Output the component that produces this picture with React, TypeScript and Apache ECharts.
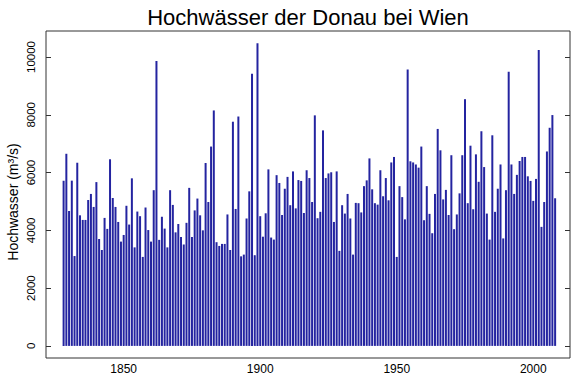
import React, { useEffect, useRef } from "react";
import * as echarts from "echarts";

const START_YEAR = 1828;
const PEAKS: number[] = [
  5720, 6650, 4670, 5720, 3110, 6340, 4520, 4360, 4360, 5050,
  5260, 4810, 5670, 3700, 3320, 4430, 4050, 6460, 5120, 4810,
  4290, 3610, 3840, 4850, 4200, 5800, 3410, 4650, 4490, 3080,
  4790, 4010, 3610, 5390, 9860, 3670, 4470, 4060, 3410, 5390,
  4880, 3930, 4220, 3770, 3510, 4260, 5470, 3770, 4690, 5100,
  4520, 4000, 6330, 4980, 6900, 8150, 3590, 3460, 3530, 3530,
  4550, 3320, 7760, 4740, 7940, 3100, 3160, 4410, 5350, 9420,
  3140, 10480, 4490, 3780, 4590, 6110, 3750, 3680, 5910, 5640,
  4530, 5440, 5850, 4870, 6040, 4760, 5740, 5710, 4600, 6080,
  5810, 4980, 7980, 4420, 4640, 7460, 5810, 5970, 6010, 4290,
  6040, 3290, 4870, 4580, 5260, 4410, 3160, 4950, 4940, 4620,
  5530, 5730, 6490, 5420, 4940, 4890, 6080, 5180, 5810, 5040,
  6350, 6540, 3080, 5530, 5150, 4380, 9570, 6390, 6350, 6280,
  6170, 6900, 4350, 5530, 4570, 3900, 5260, 7510, 6770, 5070,
  5400, 4530, 6600, 4040, 4550, 5280, 6600, 8540, 4940, 6930,
  4730, 6630, 5680, 7430, 6190, 4580, 3680, 7290, 4640, 5440,
  6280, 3720, 5390, 9490, 6280, 5260, 5920, 6400, 6540, 6540,
  5870, 5710, 5020, 5780, 10240, 4120, 4980, 6730, 7550, 7990,
  5110,
];
const X_TICKS: number[] = [1850, 1900, 1950, 2000];
const Y_TICKS: number[] = [0, 2000, 4000, 6000, 8000, 10000];
const TITLE = "Hochwässer der Donau bei Wien";
const Y_NAME = "Hochwasser (m³/s)";

export default function App() {
  const ref = useRef<HTMLDivElement>(null);
  useEffect(() => {
    if (!ref.current) return;
    const chart = echarts.init(ref.current, undefined, { renderer: "svg" });
    const font = "'Liberation Sans', Arial, sans-serif";
    const data = PEAKS.map((v, i) => [START_YEAR + i, v]);
    const plain = (v: number) => String(v);
    const yCommon = {
      type: "value",
      min: -419,
      max: 10900,
      splitLine: { show: false },
      axisLine: { show: false },
    };
    chart.setOption({
      animation: false,
      backgroundColor: "#ffffff",
      grid: {
        left: 46,
        right: 4,
        top: 31,
        bottom: 18,
        show: true,
        borderColor: "#333",
        borderWidth: 1,
        backgroundColor: "transparent",
      },
      graphic: [
        {
          type: "text",
          x: 308,
          y: 17,
          style: {
            text: TITLE,
            fontSize: 22,
            fontFamily: font,
            fill: "#000",
            align: "center",
            verticalAlign: "middle",
          },
        },
        {
          type: "text",
          x: 13,
          y: 202,
          rotation: Math.PI / 2,
          style: {
            text: Y_NAME,
            fontSize: 14,
            fontFamily: font,
            fill: "#000",
            align: "center",
            verticalAlign: "middle",
          },
        },
      ],
      xAxis: {
        type: "value",
        min: 1821.55,
        max: 2013.45,
        splitLine: { show: false },
        axisLine: { show: false },
        axisTick: {
          show: true,
          inside: true,
          length: 6,
          customValues: X_TICKS,
          lineStyle: { color: "#333" },
        },
        axisLabel: {
          customValues: X_TICKS,
          formatter: plain,
          fontSize: 12,
          fontFamily: font,
          color: "#000",
          margin: 5,
        },
      },
      yAxis: [
        {
          ...yCommon,
          position: "left",
          axisTick: {
            show: true,
            inside: true,
            length: 5,
            customValues: Y_TICKS,
            lineStyle: { color: "#333" },
          },
          axisLabel: {
            customValues: Y_TICKS,
            formatter: plain,
            rotate: 90,
            fontSize: 11.5,
            fontFamily: font,
            color: "#000",
            margin: 9,
          },
        },
        {
          ...yCommon,
          position: "right",
          axisTick: {
            show: true,
            inside: true,
            length: 5,
            customValues: Y_TICKS,
            lineStyle: { color: "#333" },
          },
          axisLabel: { show: false },
        },
      ],
      series: [
        {
          type: "bar",
          data,
          barWidth: 2,
          itemStyle: { color: "#2424a0" },
          xAxisIndex: 0,
          yAxisIndex: 0,
        },
      ],
    });
    return () => chart.dispose();
  }, []);
  return (
    <div
      ref={ref}
      style={{ position: "fixed", left: 0, top: 0, width: 574, height: 376, background: "#fff" }}
    />
  );
}
